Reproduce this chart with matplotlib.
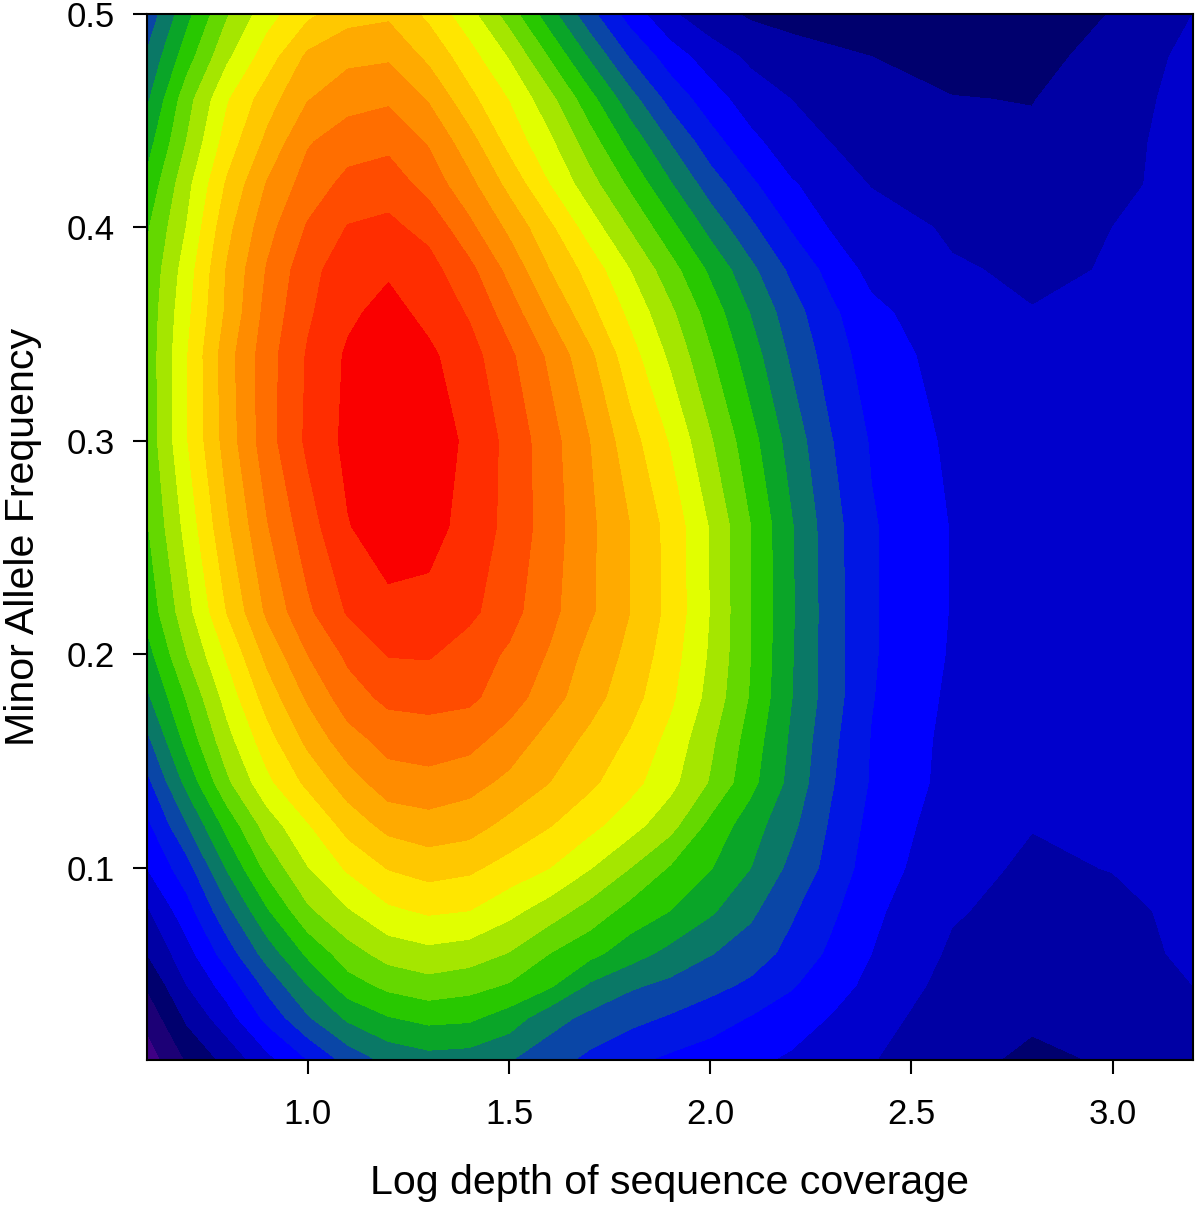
import matplotlib
matplotlib.use('Agg')
import matplotlib.pyplot as plt
import numpy as np

plt.rcParams['font.family'] = ['Liberation Sans', 'DejaVu Sans']

# Log depth of coverage (columns) and minor allele frequency (rows)
log_depth = [0.6, 0.7, 0.8, 0.9, 1.0, 1.1, 1.2, 1.3, 1.4, 1.5, 1.6, 1.7, 1.8, 1.9,
             2.0, 2.1, 2.2, 2.3, 2.4, 2.6, 2.8, 3.0, 3.2]
maf = [0.01, 0.03, 0.045, 0.06, 0.08, 0.10, 0.12, 0.14, 0.16, 0.18, 0.20, 0.22,
       0.26, 0.30, 0.34, 0.36, 0.38, 0.40, 0.42, 0.44, 0.46, 0.48, 0.50]

# Density, in units of colour bands, one list per row
maf_001 = [0.4, 2.1, 3.3, 4.7, 6.0, 7.35, 8.25, 8.6, 8.5, 8.05, 7.4, 6.75, 6.2, 5.8,
           5.5, 5.2, 4.85, 4.45, 4.05, 3.3, 2.8, 3.1, 3.6]
maf_003 = [1.3, 3.2, 4.6, 6.3, 7.9, 9.2, 9.95, 10.3, 10.2, 9.55, 8.4, 7.75, 7.3, 6.9,
           6.45, 5.95, 5.5, 4.95, 4.4, 3.45, 3.15, 3.3, 3.85]
maf_0045 = [2.1, 4.0, 5.45, 7.3, 9.0, 10.55, 11.25, 11.6, 11.35, 10.9, 10.15, 8.85, 8.15, 7.75,
            7.3, 6.8, 6.1, 5.4, 4.75, 3.65, 3.35, 3.45, 4.0]
maf_006 = [3.0, 4.65, 6.5, 8.45, 10.2, 11.55, 12.4, 12.7, 12.5, 11.95, 11.0, 10.3, 9.45, 8.7,
           8.05, 7.5, 6.7, 5.8, 5.0, 3.85, 3.55, 3.6, 4.2]
maf_008 = [3.85, 5.6, 7.75, 9.9, 11.8, 12.9, 13.8, 14.15, 14.0, 13.3, 12.5, 11.6, 10.65, 10.0,
           9.15, 8.2, 7.15, 6.2, 5.2, 4.1, 3.65, 3.75, 4.25]
maf_010 = [5.0, 6.6, 9.1, 11.3, 12.95, 14.15, 15.05, 15.4, 15.2, 14.6, 14.0, 13.05, 12.0, 10.9,
           10.05, 9.0, 7.75, 6.65, 5.5, 4.3, 3.85, 4.03, 4.3]
maf_012 = [5.75, 7.95, 10.35, 12.45, 13.9, 15.4, 16.3, 16.6, 16.4, 15.7, 15.05, 14.3, 13.4, 12.35,
           10.7, 9.45, 8.25, 6.85, 5.7, 4.45, 4.03, 4.08, 4.35]
maf_014 = [6.7, 9.3, 11.8, 13.75, 15.25, 16.5, 17.55, 17.65, 17.35, 16.75, 16.0, 15.2, 14.35, 13.3,
           11.9, 10.3, 8.7, 7.1, 5.9, 4.65, 4.2, 4.15, 4.45]
maf_016 = [7.75, 10.35, 12.65, 14.6, 16.25, 17.6, 18.35, 18.55, 18.35, 17.55, 16.6, 15.75, 14.85, 13.7,
           12.2, 10.55, 8.85, 7.25, 5.95, 4.7, 4.3, 4.2, 4.5]
maf_018 = [8.8, 11.1, 13.4, 15.45, 17.15, 18.55, 19.25, 19.3, 19.2, 18.5, 17.4, 16.4, 15.4, 14.2,
           12.65, 10.9, 9.05, 7.45, 6.05, 4.8, 4.4, 4.3, 4.55]
maf_020 = [9.6, 12.0, 14.15, 16.3, 18.0, 19.2, 20.05, 20.1, 19.5, 18.85, 17.9, 16.65, 15.75, 14.45,
           12.85, 11.0, 9.1, 7.45, 6.1, 4.9, 4.5, 4.4, 4.55]
maf_022 = [10.3, 12.65, 15.05, 17.2, 18.8, 20.1, 20.75, 20.7, 20.25, 19.35, 18.3, 17.15, 16.0, 14.7,
           12.95, 11.0, 9.15, 7.45, 6.1, 4.95, 4.55, 4.45, 4.6]
maf_026 = [10.9, 13.35, 15.85, 17.95, 19.55, 20.95, 21.5, 21.35, 20.65, 19.7, 18.5, 17.2, 16.0, 14.65,
           12.9, 11.0, 9.1, 7.4, 6.1, 4.95, 4.6, 4.55, 4.7]
maf_030 = [11.3, 13.95, 16.45, 18.6, 20.2, 21.25, 21.8, 21.55, 20.8, 19.7, 18.4, 17.0, 15.4, 13.9,
           12.1, 10.35, 8.6, 7.05, 5.9, 4.8, 4.45, 4.45, 4.75]
maf_034 = [11.35, 13.95, 16.6, 18.6, 20.1, 21.15, 21.6, 21.2, 20.4, 19.2, 17.8, 16.2, 14.4, 12.8,
           11.1, 9.45, 7.85, 6.5, 5.5, 4.6, 4.2, 4.3, 4.7]
maf_036 = [11.3, 13.75, 16.2, 18.35, 19.85, 20.8, 21.35, 20.7, 19.9, 18.5, 16.9, 15.3, 13.75, 12.2,
           10.55, 8.95, 7.45, 6.2, 5.25, 4.35, 4.03, 4.1, 4.65]
maf_038 = [11.15, 13.5, 16.1, 18.1, 19.65, 20.6, 20.85, 20.35, 19.3, 17.7, 16.0, 14.6, 13.0, 11.4,
           9.8, 8.25, 6.8, 5.65, 4.7, 4.1, 3.85, 4.05, 4.6]
maf_040 = [10.85, 13.05, 15.7, 17.65, 19.1, 20.05, 20.2, 19.7, 18.25, 16.75, 15.2, 13.5, 11.9, 10.3,
           8.65, 7.2, 5.9, 4.9, 4.5, 3.85, 3.55, 4.0, 4.55]
maf_042 = [10.25, 12.7, 15.15, 17.1, 18.45, 19.3, 19.6, 18.6, 17.3, 15.7, 14.0, 12.4, 10.8, 9.1,
           7.5, 6.2, 5.1, 4.55, 3.95, 3.4, 3.35, 3.65, 4.55]
maf_044 = [9.55, 12.05, 14.45, 16.25, 17.9, 18.55, 18.7, 17.9, 16.4, 14.65, 13.2, 11.45, 9.65, 7.95,
           6.4, 5.25, 4.45, 3.98, 3.75, 3.25, 3.15, 3.6, 4.5]
maf_046 = [8.8, 11.6, 13.9, 15.55, 16.95, 17.6, 17.85, 16.9, 15.3, 13.95, 12.3, 10.35, 8.4, 6.65,
           5.45, 4.5, 4.0, 3.75, 3.5, 3.03, 2.97, 3.5, 4.4]
maf_048 = [8.1, 10.55, 12.8, 14.5, 16.2, 16.75, 16.85, 15.75, 14.4, 12.9, 10.9, 8.85, 6.9, 5.5,
           4.5, 3.8, 3.45, 3.2, 3.0, 2.7, 2.65, 3.4, 4.25]
maf_050 = [7.3, 9.7, 11.9, 13.6, 14.75, 15.6, 15.8, 14.75, 13.35, 11.5, 9.4, 7.3, 5.55, 4.15,
           3.35, 2.85, 2.6, 2.45, 2.35, 2.2, 2.3, 3.05, 4.0]

band_colors = ['#3f0084', '#1c0076', '#00006e', '#0000a4', '#0000cc', '#0000ff', '#0016e4', '#0a46a6',
               '#0a7866', '#0aa528', '#28c800', '#64d800', '#a5e600', '#e1ff00', '#ffe600', '#ffc800',
               '#ffaa00', '#ff8c00', '#ff6e00', '#ff4c00', '#ff2d00', '#fa0000']

x_ticks = [1.0, 1.5, 2.0, 2.5, 3.0]
y_ticks = [0.1, 0.2, 0.3, 0.4, 0.5]

W, H = 1200, 1208
fig = plt.figure(figsize=(W / 100, H / 100), dpi=100)
ax = fig.add_axes([147 / W, (H - 1060) / H, 1046 / W, 1046 / H])

density = np.array([maf_001, maf_003, maf_0045, maf_006, maf_008, maf_010, maf_012, maf_014,
                    maf_016, maf_018, maf_020, maf_022, maf_026, maf_030, maf_034, maf_036,
                    maf_038, maf_040, maf_042, maf_044, maf_046, maf_048, maf_050])
levels = np.arange(len(band_colors) + 1)
filled = ax.contourf(log_depth, maf, density, levels=levels, colors=band_colors)
filled.set_edgecolor('face')
filled.set_linewidth(0.3)

ax.set_xlim(0.6, 3.2)
ax.set_ylim(0.01, 0.5)
ax.set_xticks(x_ticks)
ax.set_yticks(y_ticks)
ax.set_xticklabels([f'{t:.1f}' for t in x_ticks])
ax.set_yticklabels([f'{t:.1f}' for t in y_ticks])
ax.tick_params(length=10, width=1.5, labelsize=25, pad=13, color='black')
ax.tick_params(axis='x', pad=17)

for spine in ax.spines.values():
    spine.set_linewidth(1.5)

ax.set_xlabel('Log depth of sequence coverage', fontsize=29.6, labelpad=24)
ax.set_ylabel('Minor Allele Frequency', fontsize=29.6, labelpad=18)

plt.savefig('out.png', dpi=100)
